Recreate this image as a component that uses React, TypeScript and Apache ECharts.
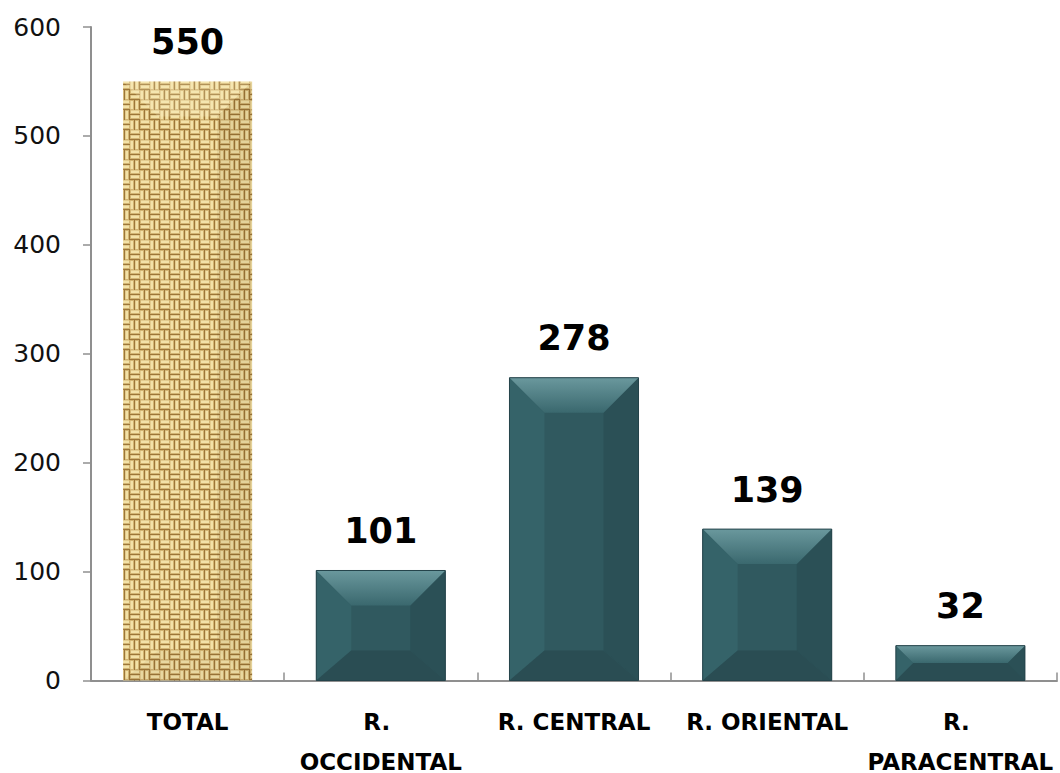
import React, { useEffect, useRef } from 'react';
import * as echarts from 'echarts';

const categories = ['TOTAL', 'R. OCCIDENTAL', 'R. CENTRAL', 'R. ORIENTAL', 'R. PARACENTRAL'];
const values = [550, 101, 278, 139, 32];
const yMin = 0;
const yMax = 600;
const yInterval = 100;

function makeBurlap(): HTMLCanvasElement {
  const c = document.createElement('canvas');
  const size = 20;
  c.width = size;
  c.height = size;
  const ctx = c.getContext('2d')!;
  ctx.fillStyle = '#9c7638';
  ctx.fillRect(0, 0, size, size);
  const cell = 10;
  for (let i = 0; i < 2; i++) {
    for (let j = 0; j < 2; j++) {
      const x = i * cell;
      const y = j * cell;
      const horiz = (i + j) % 2 === 0;
      for (let k = 0; k < 2; k++) {
        ctx.fillStyle = '#d2b472';
        if (horiz) ctx.fillRect(x, y + k * 5, cell, 4);
        else ctx.fillRect(x + k * 5, y, 4, cell);
        ctx.fillStyle = '#f3e2a8';
        if (horiz) ctx.fillRect(x + 1, y + k * 5 + 0.5, cell - 2, 2.5);
        else ctx.fillRect(x + k * 5 + 0.5, y + 1, 2.5, cell - 2);
      }
    }
  }
  return c;
}

export default function App() {
  const ref = useRef<HTMLDivElement>(null);
  useEffect(() => {
    const chart = echarts.init(ref.current!, null, { renderer: 'svg' });
    const burlap = makeBurlap();
    const teal = {
      center: '#30595f',
      left: '#356369',
      right: '#2b5056',
      bottom: '#2a4d53',
      topA: '#6a989d',
      topB: '#3a686e',
      edge: '#24434a',
    };
    const renderItem = (params: any, api: any) => {
      const idx = params.dataIndex;
      const val = api.value(1);
      const base = api.coord([api.value(0), 0]);
      const top = api.coord([api.value(0), val]);
      const bandW = api.size([1, 0])[0];
      const w = bandW * 0.668;
      const x0 = base[0] - w / 2;
      const x1 = base[0] + w / 2;
      const y0 = top[1];
      const y1 = base[1];
      const h = y1 - y0;
      const b = Math.min(35, h / 2);
      const bb = Math.min(30, h / 2);
      const bs = Math.min(35, w / 2, Math.max(b, 17));
      const tl = [x0, y0], tr = [x1, y0], br = [x1, y1], bl = [x0, y1];
      const itl = [x0 + bs, y0 + b], itr = [x1 - bs, y0 + b];
      const ibr = [x1 - bs, y1 - bb], ibl = [x0 + bs, y1 - bb];
      const children: any[] = [];
      const isTotal = idx === 0;
      if (isTotal) {
        children.push({
          type: 'rect',
          shape: { x: x0, y: y0, width: w, height: h },
          style: { fill: { image: burlap, repeat: 'repeat', imageWidth: 20, imageHeight: 20 } },
        });
        children.push({ type: 'polygon', shape: { points: [tl, tr, itr, itl] }, style: { fill: 'rgba(255,245,210,0.22)' } });
        children.push({ type: 'polygon', shape: { points: [tr, br, ibr, itr] }, style: { fill: 'rgba(60,40,10,0.08)' } });
        children.push({ type: 'polygon', shape: { points: [bl, ibl, ibr, br] }, style: { fill: 'rgba(60,40,10,0.05)' } });
      } else {
        children.push({ type: 'rect', shape: { x: x0, y: y0, width: w, height: h }, style: { fill: teal.center } });
        children.push({ type: 'polygon', shape: { points: [tl, itl, ibl, bl] }, style: { fill: teal.left } });
        children.push({ type: 'polygon', shape: { points: [tr, br, ibr, itr] }, style: { fill: teal.right } });
        children.push({ type: 'polygon', shape: { points: [bl, ibl, ibr, br] }, style: { fill: teal.bottom } });
        children.push({
          type: 'polygon',
          shape: { points: [tl, tr, itr, itl] },
          style: {
            fill: new echarts.graphic.LinearGradient(0, 0, 0, 1, [
              { offset: 0, color: teal.topA },
              { offset: 1, color: teal.topB },
            ]),
          },
        });
        children.push({
          type: 'rect',
          shape: { x: x0, y: y0, width: w, height: h },
          style: { fill: 'none', stroke: teal.edge, lineWidth: 1 },
        });
      }
      children.push({
        type: 'text',
        x: base[0],
        y: y0 - 22,
        style: {
          text: String(val),
          fill: '#000',
          font: 'bold 35px "DejaVu Sans"',
          align: 'center',
          verticalAlign: 'bottom',
        },
      });
      return { type: 'group', children };
    };

    const axisGray = '#8f8f8f';
    const option = {
      animation: false,
      grid: { left: 91, right: 3, top: 27, bottom: 92.5, outerBoundsMode: 'none', containLabel: false },
      xAxis: [
        {
          type: 'category',
          data: categories,
          position: 'bottom',
          axisLine: { show: true, lineStyle: { color: axisGray, width: 2 } },
          axisTick: { show: true, inside: true, length: 8, lineStyle: { color: axisGray, width: 1.5 } },
          axisLabel: {
            interval: 0,
            margin: 21,
            color: '#000',
            fontFamily: 'DejaVu Sans',
            fontWeight: 'bold',
            fontSize: 23,
            lineHeight: 40,
            width: 190,
            overflow: 'break',
          },
          splitLine: { show: false },
        },
        {
          type: 'category',
          data: categories,
          position: 'bottom',
          gridIndex: 0,
          axisLine: { show: false },
          axisTick: { show: true, inside: true, alignWithLabel: true, length: 8, lineStyle: { color: axisGray, width: 1.5 } },
          axisLabel: { show: false },
          splitLine: { show: false },
        },
      ],
      yAxis: {
        type: 'value',
        min: yMin,
        max: yMax,
        interval: yInterval,
        axisLine: { show: true, lineStyle: { color: axisGray, width: 2 } },
        axisTick: { show: true, length: 8, lineStyle: { color: axisGray, width: 1.5 } },
        axisLabel: { margin: 30, color: '#111', fontFamily: 'DejaVu Sans', fontSize: 25 },
        splitLine: { show: false },
      },
      series: [
        {
          type: 'custom',
          xAxisIndex: 0,
          yAxisIndex: 0,
          renderItem,
          data: categories.map((c, i) => [i, values[i]]),
          encode: { x: 0, y: 1 },
        },
      ],
    };
    chart.setOption(option as any);
    return () => chart.dispose();
  }, []);
  return <div ref={ref} style={{ position: 'absolute', left: 0, top: 0, width: 1060, height: 773 }} />;
}
